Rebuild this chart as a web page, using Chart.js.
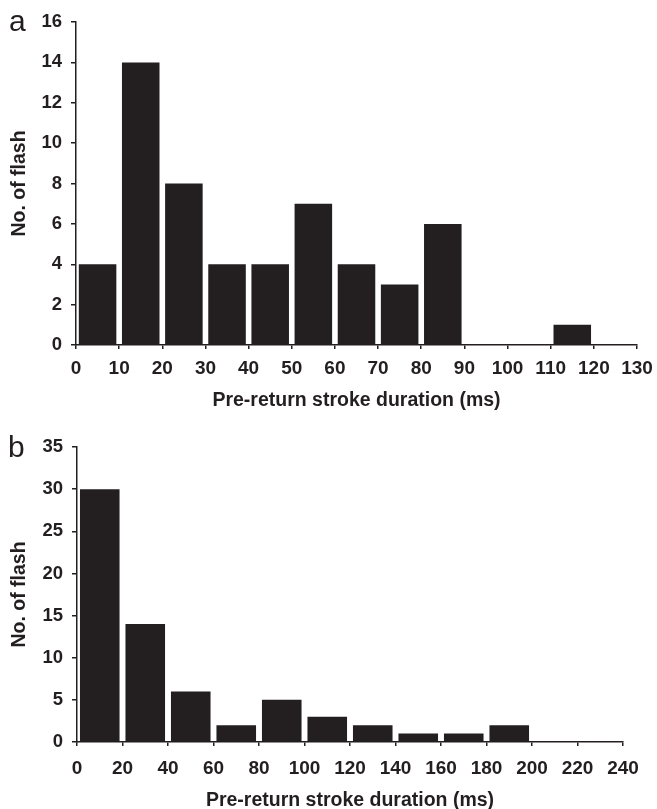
<!DOCTYPE html>
<html>
<head>
<meta charset="utf-8">
<title>Pre-return stroke duration</title>
<script src="https://cdn.jsdelivr.net/npm/chart.js@4.4.1/dist/chart.umd.min.js"></script>
<style>
    html, body { margin: 0; padding: 0; background: #fff; }
    #wrap { position: relative; width: 657px; height: 809px; overflow: hidden; }
    canvas { position: absolute; left: 0; }
    #chartA { top: 0; }
    #chartB { top: 400px; }
    .panel-label {
        position: absolute;
        font-family: 'Liberation Sans', Arial, sans-serif;
        font-size: 30px;
        line-height: 30px;
        color: #231f20;
    }
</style>
</head>
<body>
<div id="wrap">
    <canvas id="chartA" width="657" height="412" style="width:657px;height:412px"></canvas>
    <canvas id="chartB" width="657" height="409" style="width:657px;height:409px"></canvas>
    <div class="panel-label" style="left:9px;top:6px">a</div>
    <div class="panel-label" style="left:8px;top:432px">b</div>
</div>
<script>
// panel a: 10 ms bins
var binCentersA = [5, 15, 25, 35, 45, 55, 65, 75, 85, 95, 105, 115, 125];
var countsA = [4, 14, 8, 4, 4, 7, 4, 3, 6, 0, 0, 1, 0];

// panel b: 20 ms bins
var binCentersB = [10, 30, 50, 70, 90, 110, 130, 150, 170, 190, 210, 230];
var countsB = [30, 14, 6, 2, 5, 3, 2, 1, 1, 2, 0, 0];

var xTitle = 'Pre-return stroke duration (ms)';
var yTitle = 'No. of flash';

(function () {
    "use strict";

    var ink = '#231f20';
    var family = "'Liberation Sans', Arial, Helvetica, sans-serif";

    function histogram(id, centers, counts, opts) {
        var points = centers.map(function (c, i) {
            return {x: c, y: counts[i]};
        });

        var ctx = document.getElementById(id).getContext('2d');

        return new Chart(ctx, {
            type: 'bar',
            data: {
                datasets: [{
                    data: points,
                    backgroundColor: ink,
                    borderWidth: 0,
                    barPercentage: 0.87,
                    categoryPercentage: 1
                }]
            },
            options: {
                responsive: false,
                animation: false,
                events: [],
                layout: {
                    padding: {top: opts.top, right: opts.right, left: 0, bottom: 0}
                },
                plugins: {
                    legend: {display: false},
                    tooltip: {enabled: false}
                },
                scales: {
                    x: {
                        type: 'linear',
                        min: 0,
                        max: opts.xMax,
                        offset: false,
                        grid: {
                            offset: false,
                            drawOnChartArea: false,
                            drawTicks: true,
                            tickLength: 4,
                            color: ink,
                            lineWidth: 1.5
                        },
                        border: {color: ink, width: 1.5},
                        ticks: {
                            stepSize: opts.xStep,
                            // small padding so the last label does not eat into the right edge
                            padding: opts.xPad,
                            maxRotation: 0,
                            autoSkip: false,
                            color: ink,
                            font: {family: family, size: 19, weight: 'bold', lineHeight: 1.68}
                        },
                        title: {
                            display: true,
                            text: xTitle,
                            color: ink,
                            padding: {top: 0, bottom: opts.titlePad},
                            font: {family: family, size: 19.5, weight: 'bold', lineHeight: 1}
                        },
                        afterFit: function (scale) {
                            scale.height = opts.xHeight;
                        }
                    },
                    y: {
                        min: 0,
                        max: opts.yMax,
                        grid: {
                            drawOnChartArea: false,
                            drawTicks: true,
                            tickLength: 5,
                            color: ink,
                            lineWidth: 1.5
                        },
                        border: {color: ink, width: 1.5},
                        ticks: {
                            stepSize: opts.yStep,
                            padding: 9,
                            color: ink,
                            font: {family: family, size: 18.5, weight: 'bold'}
                        },
                        title: {
                            display: true,
                            text: yTitle,
                            color: ink,
                            padding: {top: 10, bottom: 0},
                            font: {family: family, size: 19.5, weight: 'bold', lineHeight: 1}
                        },
                        afterFit: function (scale) {
                            scale.width = opts.yWidth;
                        }
                    }
                }
            }
        });
    }

    histogram('chartA', binCentersA, countsA, {
        xMax: 130, xStep: 10, yMax: 16, yStep: 2,
        top: 22, right: 20, yWidth: 76, xHeight: 67, xPad: 4, titlePad: 2
    });

    histogram('chartB', binCentersB, countsB, {
        xMax: 240, xStep: 20, yMax: 35, yStep: 5,
        top: 47, right: 34, yWidth: 77, xHeight: 67, xPad: 7, titlePad: -1
    });
})();
</script>
</body>
</html>
